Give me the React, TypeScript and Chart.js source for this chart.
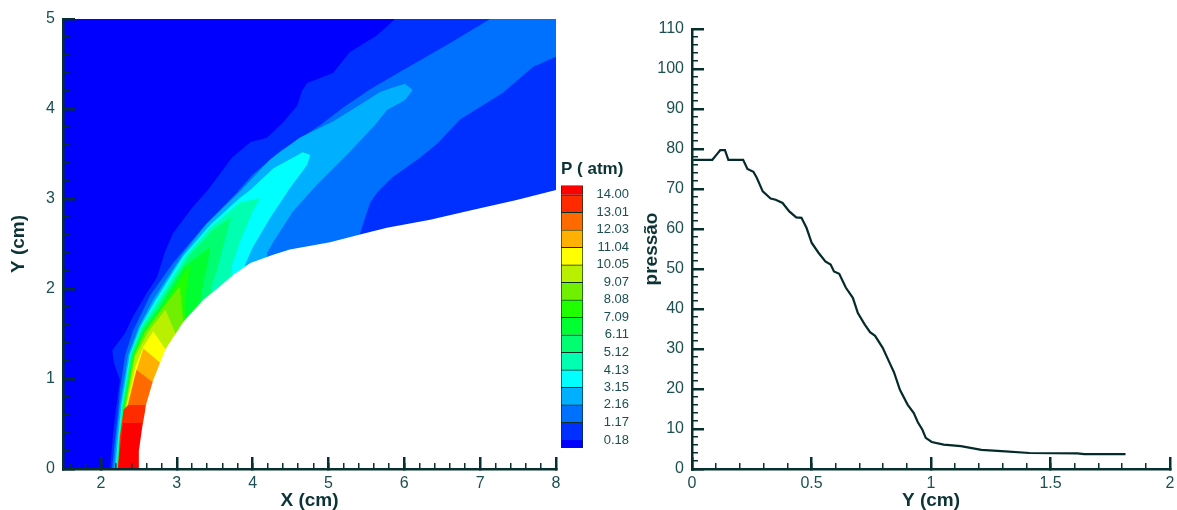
import React, { useEffect, useRef } from "react";
import { Chart, registerables } from "chart.js";

Chart.register(...registerables);

type Pt = [number, number];

// ---------- left panel: pressure contour bands (X cm, Y cm) ----------
const domainBand: Pt[] = [[1.5, 0], [1.5, 5], [8, 5], [8, 0]];
const bandP018: Pt[] = [[2.12, 0], [2.16, 0.4], [2.19, 0.62], [2.21, 0.74], [2.25, 0.99], [2.17, 1.18], [2.15, 1.32], [2.32, 1.51], [2.42, 1.69], [2.6, 1.95], [2.74, 2.13], [2.84, 2.4], [2.95, 2.62], [3.2, 2.9], [3.41, 3.1], [3.73, 3.46], [3.97, 3.63], [4.19, 3.68], [4.4, 3.85], [4.59, 4.04], [4.65, 4.2], [4.72, 4.29], [5.06, 4.4], [5.28, 4.63], [5.64, 4.82], [5.88, 5], [8, 5], [8, 0]];
const bandP117: Pt[] = [[2.146, 0], [2.18, 0.3], [2.225, 0.62], [2.25, 0.88], [2.32, 1.27], [2.42, 1.53], [2.65, 1.93], [2.95, 2.29], [3.35, 2.69], [3.79, 3.07], [4.0, 3.27], [4.36, 3.53], [4.89, 3.82], [5.2, 4.02], [5.55, 4.22], [5.98, 4.43], [6.6, 4.73], [7.13, 5], [8, 5], [8, 4.58], [7.7, 4.47], [7.3, 4.18], [6.73, 3.88], [6.44, 3.62], [6.21, 3.46], [5.84, 3.24], [5.65, 3.08], [5.55, 2.96], [5.42, 2.63], [5.39, 2.4], [5.39, 0]];
const bandP216: Pt[] = [[2.17, 0], [2.2, 0.3], [2.25, 0.71], [2.36, 1.27], [2.5, 1.58], [2.69, 1.88], [3.08, 2.39], [3.4, 2.73], [3.83, 3.08], [4.23, 3.44], [4.62, 3.68], [5.06, 3.86], [5.4, 4.04], [5.68, 4.19], [5.85, 4.24], [6.01, 4.28], [6.11, 4.21], [6.01, 4.1], [5.77, 3.99], [5.61, 3.82], [5.24, 3.49], [4.85, 3.16], [4.53, 2.86], [4.27, 2.52], [4.19, 2.4], [4.19, 0]];
const bandP315: Pt[] = [[2.19, 0], [2.22, 0.3], [2.27, 0.71], [2.38, 1.27], [2.52, 1.58], [2.71, 1.86], [3.08, 2.36], [3.44, 2.71], [3.83, 3.01], [3.97, 3.1], [4.27, 3.34], [4.66, 3.52], [4.76, 3.49], [4.72, 3.38], [4.49, 3.12], [4.23, 2.79], [4.0, 2.46], [3.9, 2.27], [3.9, 0]];
const bandP413: Pt[] = [[2.2, 0], [2.23, 0.3], [2.28, 0.71], [2.39, 1.27], [2.53, 1.58], [2.73, 1.84], [3.13, 2.38], [3.44, 2.68], [3.83, 2.96], [4.1, 3.01], [4.0, 2.86], [3.83, 2.52], [3.73, 2.27], [3.73, 0]];
const bandP512: Pt[] = [[2.21, 0], [2.24, 0.3], [2.29, 0.71], [2.4, 1.27], [2.54, 1.56], [2.75, 1.82], [3.17, 2.38], [3.48, 2.66], [3.72, 2.8], [3.7, 2.75], [3.61, 2.47], [3.53, 2.21], [3.46, 2.04], [3.46, 0]];
const bandP611: Pt[] = [[2.22, 0], [2.25, 0.3], [2.3, 0.71], [2.42, 1.27], [2.56, 1.54], [2.77, 1.79], [3.1, 2.25], [3.44, 2.47], [3.4, 2.25], [3.35, 2.07], [3.3, 1.8], [3.3, 0]];
const bandP709: Pt[] = [[2.225, 0], [2.26, 0.3], [2.31, 0.71], [2.43, 1.27], [2.57, 1.53], [2.78, 1.77], [3.17, 2.27], [3.11, 1.88], [3.11, 1.55], [3.11, 0]];
const bandP808: Pt[] = [[2.23, 0], [2.27, 0.3], [2.32, 0.71], [2.44, 1.27], [2.58, 1.52], [2.79, 1.76], [3.04, 2.03], [3.08, 1.69], [3.09, 1.5], [3.09, 0]];
const bandP907: Pt[] = [[2.24, 0], [2.28, 0.3], [2.33, 0.71], [2.45, 1.25], [2.62, 1.52], [2.85, 1.77], [2.98, 1.51], [3.0, 1.4], [3.0, 0]];
const bandP1005: Pt[] = [[2.25, 0], [2.29, 0.3], [2.34, 0.71], [2.46, 1.15], [2.56, 1.36], [2.69, 1.53], [2.85, 1.33], [2.85, 0]];
const bandP1104: Pt[] = [[2.26, 0], [2.3, 0.3], [2.35, 0.71], [2.44, 1.02], [2.56, 1.34], [2.78, 1.18], [2.78, 0]];
const bandP1203: Pt[] = [[2.27, 0], [2.31, 0.3], [2.36, 0.71], [2.47, 1.1], [2.69, 0.96], [2.69, 0]];
const bandP1301: Pt[] = [[2.225, 0], [2.25, 0.36], [2.3, 0.66], [2.36, 0.71], [2.58, 0.71], [2.58, 0]];
const bandP1400: Pt[] = [[2.225, 0], [2.29, 0.51], [2.54, 0.51], [2.54, 0]];
const bodyShape: Pt[] = [[2.49, 0], [2.5, 0.2], [2.54, 0.44], [2.6, 0.73], [2.69, 0.99], [2.85, 1.33], [3.09, 1.64], [3.35, 1.88], [3.57, 2.03], [3.75, 2.16], [3.97, 2.29], [4.27, 2.38], [4.49, 2.44], [5.02, 2.52], [5.39, 2.6], [5.77, 2.68], [6.34, 2.77], [6.91, 2.88], [7.48, 2.99], [8, 3.1], [8, 0]];

const contourBands: Pt[][] = [domainBand, bandP018, bandP117, bandP216, bandP315, bandP413, bandP512, bandP611, bandP709, bandP808, bandP907, bandP1005, bandP1104, bandP1203, bandP1301, bandP1400];
const bandColors = ["#0000ff", "#0030ff", "#0070ff", "#00b0ff", "#00ffff", "#00ffb0", "#00ff70", "#00ff30", "#20ff00", "#70f000", "#b8f000", "#ffff00", "#ffb000", "#ff6a00", "#ff2a00", "#ff0000"];

// ---------- colour bar ----------
const legendLevels = [0.18, 1.17, 2.16, 3.15, 4.13, 5.12, 6.11, 7.09, 8.08, 9.07, 10.05, 11.04, 12.03, 13.01, 14.0];
const legendEdges = [-0.27, 0.18, 1.17, 2.16, 3.15, 4.13, 5.12, 6.11, 7.09, 8.08, 9.07, 10.05, 11.04, 12.03, 13.01, 14.0, 14.53];

// ---------- right panel: pressure along the line ----------
const profileY = [0.005, 0.085, 0.103, 0.118, 0.138, 0.152, 0.214, 0.232, 0.257, 0.271, 0.296, 0.329, 0.35, 0.379, 0.407, 0.436, 0.458, 0.479, 0.501, 0.53, 0.558, 0.58, 0.594, 0.616, 0.644, 0.673, 0.694, 0.723, 0.745, 0.766, 0.798, 0.824, 0.845, 0.87, 0.902, 0.928, 0.945, 0.964, 0.978, 1.003, 1.053, 1.125, 1.211, 1.311, 1.412, 1.613, 1.641, 1.814];
const profileP = [77.3, 77.3, 78.6, 79.7, 79.7, 77.3, 77.3, 75, 74.3, 72.8, 69.4, 67.6, 67.3, 66.5, 64.4, 62.9, 62.8, 60.3, 56.5, 54, 51.9, 51.1, 49.4, 48.8, 45.3, 42.8, 39, 36.1, 34.2, 33.3, 30.3, 26.9, 24.2, 19.8, 16.1, 14, 11.7, 9.8, 7.8, 6.75, 6.1, 5.7, 4.8, 4.4, 4, 3.9, 3.7, 3.7];

// ---------- ticks ----------
const leftXMajor = [2, 3, 4, 5, 6, 7, 8];
const leftYMajor = [0, 1, 2, 3, 4, 5];
const rightXMajor = [0, 0.5, 1, 1.5, 2];
const rightYMajor = [0, 10, 20, 30, 40, 50, 60, 70, 80, 90, 100, 110];
const stepList = (from: number, to: number, step: number) => {
  const out: number[] = [];
  const n = Math.round((to - from) / step);
  for (let i = 0; i <= n; i++) out.push(+(from + i * step).toFixed(4));
  return out;
};

const FONT = "'Liberation Sans', Arial, sans-serif";
const AXIS = "#062f2f";
const TICK_TEXT = "#1c4f51";
const TITLE_TEXT = "#0c3335";

const setTicks = (vals: number[]) => (s: any) => {
  s.ticks = vals.map((value) => ({ value }));
};
const noPad = (s: any) => {
  s.paddingLeft = 0;
  s.paddingRight = 0;
  s.paddingTop = 0;
  s.paddingBottom = 0;
};

function axisPair(
  axis: "x" | "y",
  min: number,
  max: number,
  major: number[],
  minor: number[],
  title: string,
  crossAt: number,
  size: number,
  padding: number,
  titlePad: number
) {
  const main: any = {
    type: "linear",
    position: axis === "x" ? "bottom" : "left",
    min,
    max,
    afterBuildTicks: setTicks(major),
    afterFit: (s: any) => {
      if (axis === "x") s.height = size;
      else s.width = size;
      noPad(s);
    },
    grid: { drawOnChartArea: false, drawTicks: true, tickLength: -12, color: AXIS, lineWidth: 2.5, z: 1 },
    border: { display: true, color: AXIS, width: 2.5, z: 1 },
    ticks: {
      autoSkip: false,
      maxRotation: 0,
      padding,
      color: TICK_TEXT,
      font: { family: FONT, size: 16 },
      callback: (v: number) => String(v),
    },
    title: {
      display: true,
      text: title,
      color: TITLE_TEXT,
      padding: { top: axis === "x" ? 0 : titlePad, bottom: 0 },
      font: { family: FONT, size: 19, weight: "bold", lineHeight: 1 },
    },
  };
  const second: any = {
    type: "linear",
    axis,
    position: axis === "x" ? { y: crossAt } : { x: crossAt },
    min,
    max,
    afterBuildTicks: setTicks(minor),
    afterFit: noPad,
    grid: { drawOnChartArea: false, drawTicks: true, tickLength: -6, color: AXIS, lineWidth: 1.5, z: 1 },
    border: { display: false },
    ticks: { display: false, autoSkip: false },
  };
  return { main, second };
}

export default function App() {
  const leftRef = useRef<HTMLCanvasElement>(null);
  const barRef = useRef<HTMLCanvasElement>(null);
  const rightRef = useRef<HTMLCanvasElement>(null);

  useEffect(() => {
    const lx = axisPair("x", 1.5, 8, leftXMajor, stepList(1.6, 8, 0.2), "X (cm)", 0, 41, 17, 0);
    const ly = axisPair("y", 0, 5, leftYMajor, stepList(0, 5, 0.2), "Y (cm)", 1.5, 63, 20, 9);

    const layers = [...contourBands.map((pts, i) => ({ pts, color: bandColors[i] })), { pts: bodyShape, color: "#ffffff" }];

    const left = new Chart(leftRef.current!, {
      type: "line",
      data: {
        // first dataset is painted last, so the stack is listed top to bottom
        datasets: layers
          .slice()
          .reverse()
          .map((l) => ({
            data: l.pts.map(([x, y]) => ({ x, y })),
            xAxisID: "x",
            yAxisID: "y",
            backgroundColor: l.color,
            borderColor: l.color,
            borderWidth: 0,
            pointRadius: 0,
            fill: "shape",
            tension: 0,
          })),
      },
      options: {
        responsive: false,
        animation: false,
        layout: { padding: { top: 19, right: 14, bottom: 0, left: 0 } },
        plugins: { legend: { display: false }, tooltip: { enabled: false }, title: { display: false } },
        scales: { x: lx.main, y: ly.main, x2: lx.second, y2: ly.second },
      },
    } as any);

    const bar = new Chart(barRef.current!, {
      type: "bar",
      data: {
        labels: ["P"],
        datasets: bandColors.map((color, i) => ({
          data: [[legendEdges[i], legendEdges[i + 1]]],
          backgroundColor: color,
          borderColor: "#062e26",
          borderWidth: 1,
          barPercentage: 1,
          categoryPercentage: 1,
        })),
      },
      options: {
        responsive: false,
        animation: false,
        layout: { padding: { top: 4, left: 6, right: 6, bottom: 7 } },
        plugins: {
          legend: { display: false },
          tooltip: { enabled: false },
          title: {
            display: true,
            text: "P ( atm)",
            align: "start",
            color: TITLE_TEXT,
            padding: { top: 0, bottom: 6 },
            font: { family: FONT, size: 17, weight: "bold", lineHeight: 1.2 },
          },
        },
        scales: {
          x: { display: false, stacked: true },
          y: {
            position: "right",
            min: -0.27,
            max: 14.53,
            afterBuildTicks: setTicks(legendLevels),
            afterFit: (s: any) => {
              s.width = 46;
              noPad(s);
            },
            grid: { display: false, drawTicks: false },
            border: { display: false },
            ticks: {
              autoSkip: false,
              crossAlign: "far",
              padding: 12.5,
              color: TICK_TEXT,
              font: { family: FONT, size: 13 },
              callback: (v: number) => v.toFixed(2),
            },
          },
        },
      },
    } as any);

    const rx = axisPair("x", 0, 2, rightXMajor, stepList(0, 2, 0.1), "Y (cm)", 0, 41, 17, 0);
    const ry = axisPair("y", 0, 110, rightYMajor, stepList(0, 110, 2), "pressão", 0, 52, 20, 2.5);

    const right = new Chart(rightRef.current!, {
      type: "line",
      data: {
        datasets: [
          {
            data: profileY.map((x, i) => ({ x, y: profileP[i] })),
            xAxisID: "x",
            yAxisID: "y",
            borderColor: "#042a2a",
            borderWidth: 2.2,
            pointRadius: 0,
            fill: false,
            tension: 0,
          },
        ],
      },
      options: {
        responsive: false,
        animation: false,
        layout: { padding: { top: 29, right: 7, bottom: 0, left: 0 } },
        plugins: { legend: { display: false }, tooltip: { enabled: false }, title: { display: false } },
        scales: { x: rx.main, y: ry.main, x2: rx.second, y2: ry.second },
      },
    } as any);

    return () => {
      left.destroy();
      bar.destroy();
      right.destroy();
    };
  }, []);

  return (
    <div style={{ position: "absolute", left: 0, top: 0, width: 1177, height: 510, overflow: "hidden", background: "#fff", filter: "blur(0.6px)" }}>
      <canvas ref={leftRef} width={570} height={510} style={{ position: "absolute", left: 0, top: 0 }} />
      <canvas ref={barRef} width={80} height={300} style={{ position: "absolute", left: 555, top: 155 }} />
      <canvas ref={rightRef} width={537} height={510} style={{ position: "absolute", left: 640, top: 0 }} />
    </div>
  );
}
